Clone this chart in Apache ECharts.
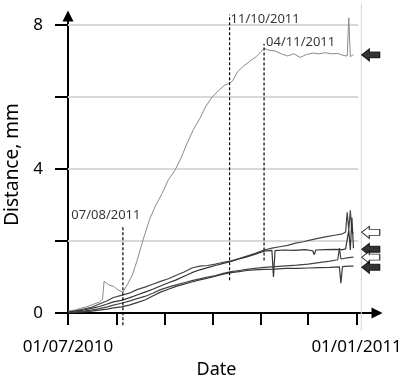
<!DOCTYPE html>
<html>
<head>
<meta charset="utf-8">
<script src="https://cdn.jsdelivr.net/npm/echarts@6/dist/echarts.min.js"></script>
<style>
  html, body { margin: 0; padding: 0; background: #fff; }
  #main { width: 403px; height: 375px; }
</style>
</head>
<body>
<div id="main"></div>
<script>
// top curve (largest displacement)
var curveTop = [
  ['2010-07-01', 0.05], ['2010-07-05', 0.08], ['2010-07-09', 0.13], ['2010-07-13', 0.17],
  ['2010-07-17', 0.24], ['2010-07-21', 0.3], ['2010-07-23', 0.38], ['2010-07-24', 0.88],
  ['2010-07-27', 0.78], ['2010-07-30', 0.74], ['2010-08-02', 0.64], ['2010-08-05', 0.58],
  ['2010-08-08', 0.8], ['2010-08-11', 1.05], ['2010-08-14', 1.45], ['2010-08-18', 2.05],
  ['2010-08-22', 2.6], ['2010-08-26', 3.0], ['2010-08-30', 3.32], ['2010-09-03', 3.7],
  ['2010-09-07', 3.95], ['2010-09-11', 4.3], ['2010-09-15', 4.72], ['2010-09-19', 5.1],
  ['2010-09-23', 5.4], ['2010-09-27', 5.75], ['2010-10-01', 6.0], ['2010-10-05', 6.18],
  ['2010-10-09', 6.33], ['2010-10-12', 6.38], ['2010-10-14', 6.45], ['2010-10-17', 6.7],
  ['2010-10-21', 6.86], ['2010-10-25', 7.0], ['2010-10-29', 7.12], ['2010-11-03', 7.35],
  ['2010-11-06', 7.3], ['2010-11-10', 7.28], ['2010-11-14', 7.2], ['2010-11-18', 7.14],
  ['2010-11-22', 7.2], ['2010-11-26', 7.1], ['2010-11-30', 7.18], ['2010-12-04', 7.22],
  ['2010-12-08', 7.2], ['2010-12-12', 7.23], ['2010-12-16', 7.2], ['2010-12-20', 7.21],
  ['2010-12-24', 7.15], ['2010-12-26', 7.14], ['2010-12-27', 8.2], ['2010-12-28', 7.12],
  ['2010-12-30', 7.18]
];
var curveA = [
  ['2010-07-01', 0.03], ['2010-07-06', 0.06], ['2010-07-11', 0.11], ['2010-07-16', 0.16],
  ['2010-07-21', 0.25], ['2010-07-26', 0.34], ['2010-07-30', 0.43], ['2010-08-04', 0.49],
  ['2010-08-09', 0.55], ['2010-08-14', 0.65], ['2010-08-19', 0.72], ['2010-08-24', 0.8],
  ['2010-08-29', 0.88], ['2010-09-03', 0.95], ['2010-09-08', 1.05], ['2010-09-13', 1.14],
  ['2010-09-18', 1.25], ['2010-09-23', 1.3], ['2010-09-28', 1.32], ['2010-10-03', 1.36],
  ['2010-10-08', 1.41], ['2010-10-13', 1.45], ['2010-10-18', 1.51], ['2010-10-23', 1.58],
  ['2010-10-28', 1.65], ['2010-11-03', 1.75], ['2010-11-08', 1.8], ['2010-11-13', 1.84],
  ['2010-11-18', 1.88], ['2010-11-23', 1.94], ['2010-11-28', 1.98], ['2010-12-03', 2.03],
  ['2010-12-08', 2.08], ['2010-12-13', 2.12], ['2010-12-18', 2.16], ['2010-12-23', 2.2],
  ['2010-12-25', 2.25], ['2010-12-26', 2.8], ['2010-12-27', 2.3], ['2010-12-28', 2.85],
  ['2010-12-29', 2.25], ['2010-12-30', 2.22]
];
var curveB = [
  ['2010-07-01', 0.02], ['2010-07-06', 0.05], ['2010-07-11', 0.08], ['2010-07-16', 0.13],
  ['2010-07-21', 0.18], ['2010-07-26', 0.25], ['2010-07-30', 0.31], ['2010-08-04', 0.35],
  ['2010-08-09', 0.42], ['2010-08-14', 0.5], ['2010-08-19', 0.58], ['2010-08-24', 0.66],
  ['2010-08-29', 0.75], ['2010-09-03', 0.84], ['2010-09-08', 0.92], ['2010-09-13', 1.02],
  ['2010-09-18', 1.12], ['2010-09-23', 1.2], ['2010-09-28', 1.26], ['2010-10-03', 1.32],
  ['2010-10-08', 1.38], ['2010-10-13', 1.43], ['2010-10-18', 1.5], ['2010-10-23', 1.56],
  ['2010-10-28', 1.63], ['2010-11-03', 1.72], ['2010-11-08', 1.74], ['2010-11-09', 1.0],
  ['2010-11-10', 1.73], ['2010-11-16', 1.75], ['2010-11-22', 1.74], ['2010-11-29', 1.76],
  ['2010-12-04', 1.73], ['2010-12-05', 1.62], ['2010-12-06', 1.75], ['2010-12-12', 1.76],
  ['2010-12-18', 1.77], ['2010-12-23', 1.76], ['2010-12-25', 1.78], ['2010-12-27', 2.3],
  ['2010-12-28', 1.75], ['2010-12-29', 2.65], ['2010-12-30', 1.8]
];
var curveC = [
  ['2010-07-01', 0.01], ['2010-07-06', 0.03], ['2010-07-11', 0.05], ['2010-07-16', 0.08],
  ['2010-07-21', 0.12], ['2010-07-26', 0.17], ['2010-07-30', 0.22], ['2010-08-04', 0.27],
  ['2010-08-09', 0.33], ['2010-08-14', 0.4], ['2010-08-19', 0.46], ['2010-08-24', 0.55],
  ['2010-08-29', 0.65], ['2010-09-03', 0.72], ['2010-09-08', 0.78], ['2010-09-13', 0.84],
  ['2010-09-18', 0.9], ['2010-09-23', 0.95], ['2010-09-28', 1.0], ['2010-10-03', 1.04],
  ['2010-10-08', 1.1], ['2010-10-13', 1.15], ['2010-10-18', 1.18], ['2010-10-23', 1.21],
  ['2010-10-28', 1.24], ['2010-11-03', 1.27], ['2010-11-10', 1.29], ['2010-11-17', 1.31],
  ['2010-11-24', 1.33], ['2010-12-01', 1.36], ['2010-12-08', 1.4], ['2010-12-15', 1.44],
  ['2010-12-20', 1.48], ['2010-12-21', 1.8], ['2010-12-22', 1.5], ['2010-12-27', 1.54],
  ['2010-12-30', 1.55]
];
var curveD = [
  ['2010-07-01', 0.0], ['2010-07-06', 0.02], ['2010-07-11', 0.03], ['2010-07-16', 0.05],
  ['2010-07-21', 0.08], ['2010-07-26', 0.11], ['2010-07-30', 0.14], ['2010-08-04', 0.17],
  ['2010-08-09', 0.22], ['2010-08-14', 0.29], ['2010-08-19', 0.36], ['2010-08-24', 0.47],
  ['2010-08-29', 0.58], ['2010-09-03', 0.66], ['2010-09-08', 0.74], ['2010-09-13', 0.8],
  ['2010-09-18', 0.86], ['2010-09-23', 0.92], ['2010-09-28', 0.97], ['2010-10-03', 1.02],
  ['2010-10-08', 1.08], ['2010-10-13', 1.12], ['2010-10-18', 1.15], ['2010-10-23', 1.18],
  ['2010-10-28', 1.2], ['2010-11-03', 1.21], ['2010-11-10', 1.22], ['2010-11-17', 1.24],
  ['2010-11-24', 1.24], ['2010-12-01', 1.25], ['2010-12-08', 1.26], ['2010-12-15', 1.27],
  ['2010-12-21', 1.28], ['2010-12-22', 0.83], ['2010-12-23', 1.29], ['2010-12-27', 1.3],
  ['2010-12-30', 1.3]
];

// dashed date markers
var annoDates = ['2010-08-05', '2010-10-12', '2010-11-03'];
var annoTop = [2.43, 8.29, 7.48];
var annoBottom = [-0.34, 0.91, 1.46];
var annoText = ['07/08/2011', '11/10/2011', '04/11/2011'];

// arrows at right end of each curve
var arrowDate = '2011-01-10';
var arrowValues = [7.17, 2.24, 1.77, 1.55, 1.27];
var arrowFill = ['#000', '#fff', '#000', '#fff', '#000'];

var gridValues = [2, 4, 6, 8];
var gridEnd = '2011-01-02';
var edgeDate = '2011-01-04';

var startDate = '2010-07-01';
var endDate = '2011-01-14';
var xTicks = ['2010-07-01', '2010-08-01', '2010-09-01', '2010-10-01', '2010-11-01', '2010-12-01', '2011-01-01'];
var xLabels = ['2010-07-01', '2011-01-01'];
var yTicks = [0, 2, 4, 6, 8];
var yLabels = [0, 4, 8];

// date string -> days since start (x axis is a day count)
function utc(s) { var p = s.split('-'); return Date.UTC(+p[0], +p[1] - 1, +p[2]); }
function day(s) { return Math.round((utc(s) - utc(startDate)) / 86400000); }
function toDMY(d) {
  var t = new Date(utc(startDate) + d * 86400000);
  function pad(n) { return (n < 10 ? '0' : '') + n; }
  return pad(t.getUTCDate()) + '/' + pad(t.getUTCMonth() + 1) + '/' + t.getUTCFullYear();
}
function pts(arr) { return arr.map(function (p) { return [day(p[0]), p[1]]; }); }

var FONT = 'Noto Sans';
var myChart = echarts.init(document.getElementById('main'));

var series = [];
// light grid lines
gridValues.forEach(function (v) {
  series.push({
    type: 'line', silent: true, symbol: 'none', z: 1,
    lineStyle: { color: '#d9d9d9', width: 2 },
    data: [[day(startDate), v], [day(gridEnd), v]]
  });
});
// right edge line
series.push({
  type: 'line', silent: true, symbol: 'none', clip: false, z: 1,
  lineStyle: { color: '#d4d4d4', width: 1 },
  data: [[day(edgeDate), 8.6], [day(edgeDate), -0.5]]
});
// curves
[[curveTop, '#8a8a8a', 1], [curveA, '#444', 1.2], [curveB, '#333', 1.2], [curveC, '#444', 1.2], [curveD, '#3a3a3a', 1.2]].forEach(function (c) {
  series.push({
    type: 'line', silent: true, symbol: 'none', z: 3,
    lineStyle: { color: c[1], width: c[2] },
    data: pts(c[0])
  });
});
// dashed markers
annoDates.forEach(function (d, i) {
  series.push({
    type: 'line', silent: true, symbol: 'none', clip: false, z: 4,
    lineStyle: { color: '#000', width: 1.2, type: [3, 2] },
    data: [[day(d), annoBottom[i]], [day(d), annoTop[i]]]
  });
});
var labelPlace = [
  { position: 'top', distance: 4, offset: [-17, 0] },
  { position: 'right', distance: 1, offset: [0, 5] },
  { position: 'right', distance: 2, offset: [0, -1] }
];
series.push({
  type: 'scatter', silent: true, symbolSize: 0, clip: false, z: 5,
  data: annoDates.map(function (d, i) {
    return {
      value: [day(d), annoTop[i]],
      label: {
        show: true, formatter: annoText[i], color: '#000', fontSize: 13, fontFamily: FONT,
        position: labelPlace[i].position, distance: labelPlace[i].distance, offset: labelPlace[i].offset
      }
    };
  })
});
// arrows
series.push({
  type: 'scatter', silent: true, clip: false, z: 5,
  symbol: 'path://M0,6L8,0L8,3L19,3L19,9L8,9L8,12Z',
  symbolSize: [18, 12],
  data: arrowValues.map(function (v, i) {
    return { value: [day(arrowDate), v], itemStyle: { color: arrowFill[i], borderColor: '#000', borderWidth: 1 } };
  })
});

myChart.setOption({
  animation: false,
  grid: { left: 68, right: 26, top: 16, bottom: 62, containLabel: false, outerBoundsMode: 'none' },
  xAxis: {
    type: 'value',
    min: day(startDate),
    max: day(endDate),
    name: 'Date',
    nameLocation: 'middle',
    nameGap: 34,
    nameTextStyle: { color: '#000', fontSize: 18, fontFamily: FONT, padding: [0, 12, 0, 0] },
    axisLine: { lineStyle: { color: '#000', width: 2 }, symbol: ['none', 'triangle'], symbolSize: [11, 11] },
    axisTick: { show: true, length: 12, lineStyle: { color: '#000', width: 2 }, customValues: xTicks.map(day) },
    axisLabel: {
      color: '#000', fontSize: 17, fontFamily: FONT, margin: 26,
      customValues: xLabels.map(day),
      formatter: function (v) { return toDMY(v); }
    },
    splitLine: { show: false }
  },
  yAxis: {
    type: 'value',
    min: 0,
    max: 8.25,
    name: 'Distance, mm',
    nameLocation: 'middle',
    nameGap: 46,
    nameTextStyle: { color: '#000', fontSize: 19, fontFamily: FONT },
    axisLine: { show: true, lineStyle: { color: '#000', width: 2 }, symbol: ['none', 'triangle'], symbolSize: [11, 11] },
    axisTick: { show: true, length: 13, lineStyle: { color: '#000', width: 2 }, customValues: yTicks },
    axisLabel: { color: '#000', fontSize: 17, fontFamily: FONT, margin: 25, customValues: yLabels },
    splitLine: { show: false }
  },
  series: series
});
</script>
</body>
</html>
